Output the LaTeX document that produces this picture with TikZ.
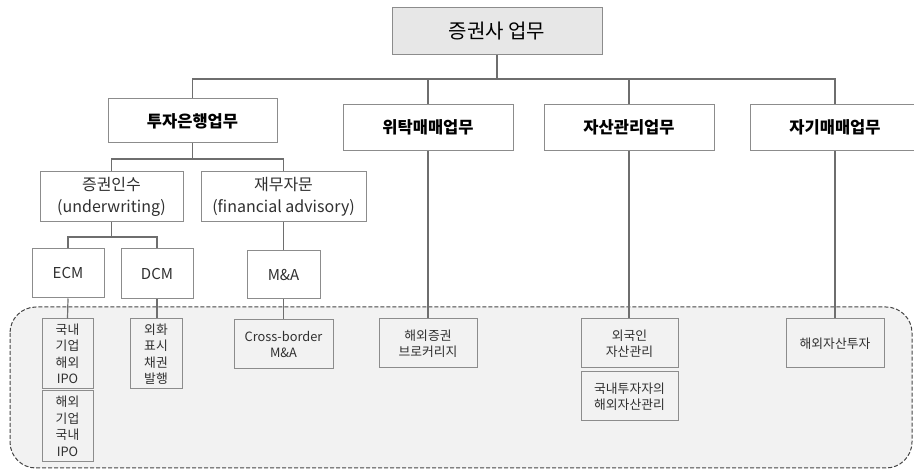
\documentclass[tikz,border=0pt]{standalone}
\usepackage{fontspec}
\setmainfont{Noto Sans CJK KR}
\definecolor{boxline}{HTML}{8C8C8C}
\definecolor{conline}{HTML}{6E6E6E}
\definecolor{txt}{HTML}{303030}
\definecolor{topfill}{HTML}{E7E7E7}
\definecolor{areafill}{HTML}{F2F2F2}
\definecolor{dashline}{HTML}{454545}
\tikzset{
  box/.style={draw=boxline, line width=1pt, inner sep=0pt, align=center, text=txt},
  whitebox/.style={box, fill=white},
  headbox/.style={whitebox, minimum width=170pt, minimum height=46pt, font=\fontsize{16.5}{19}\selectfont\bfseries, text=black},
  midbox/.style={whitebox, minimum height=50pt, font=\fontsize{16}{22}\selectfont},
  smallbox/.style={whitebox, font=\fontsize{15}{18}\selectfont},
  leafbox/.style={box, font=\fontsize{12.8}{16.5}\selectfont},
  con/.style={draw=conline, line width=1.2pt},
}
\begin{document}
\begin{tikzpicture}[x=1pt,y=-1pt]
\useasboundingbox (0,0) rectangle (914,470);
\clip (0,0) rectangle (914,470);
% dashed region
\draw[draw=dashline, fill=areafill, line width=1pt, dash pattern=on 4pt off 2pt, rounded corners=26pt] (10,307) rectangle (912,468);

% nodes
\node[whitebox, fill=topfill, minimum width=210pt, minimum height=47pt, font=\fontsize{20}{24}\selectfont, text=black] (top) at (497,31.5) {증권사 업무};

\node[headbox, minimum width=169pt, minimum height=44pt] (ib) at (192.5,121) {투자은행업무};
\node[headbox] (wt) at (428,127.5) {위탁매매업무};
\node[headbox] (am) at (629,127.5) {자산관리업무};
\node[headbox] (pt) at (835,127.5) {자기매매업무};

\node[midbox, minimum width=143pt] (uw) at (111.5,197) {증권인수\\(underwriting)};
\node[midbox, minimum width=165pt] (fa) at (283.5,197) {재무자문\\(financial advisory)};

\node[smallbox, minimum width=72pt, minimum height=49pt] (ecm) at (68,273.5) {ECM};
\node[smallbox, minimum width=72pt, minimum height=50pt] (dcm) at (157,274) {DCM};
\node[smallbox, minimum width=73pt, minimum height=48pt] (ma) at (283.5,275) {M\&A};

\node[leafbox, minimum width=51pt, minimum height=70pt] (ipo1) at (67.5,354) {국내\\기업\\해외\\IPO};
\node[leafbox, minimum width=51pt, minimum height=71pt] (ipo2) at (67.5,426.5) {해외\\기업\\국내\\IPO};
\node[leafbox, minimum width=52pt, minimum height=70pt] (fx) at (156,354) {외화\\표시\\채권\\발행};
\node[leafbox, minimum width=99pt, minimum height=49pt] (cb) at (283.5,344.5) {Cross-border\\M\&A};
\node[leafbox, minimum width=98pt, minimum height=49pt] (br) at (428,343.5) {해외증권\\브로커리지};
\node[leafbox, minimum width=97pt, minimum height=49pt] (fo) at (629.5,343.5) {외국인\\자산관리};
\node[leafbox, minimum width=97pt, minimum height=49pt] (dom) at (629.5,396.5) {국내투자자의\\해외자산관리};
\node[leafbox, minimum width=98pt, minimum height=49pt] (ov) at (835,343.5) {해외자산투자};

% connectors
\coordinate (bus) at (497,79);
\coordinate (b2) at (192,159);
\coordinate (b3) at (111.5,237);
\draw[con] (top.south) -- (bus);
\draw[con] (ib.north) |- (pt.north |- bus) -- (pt.north);
\draw[con] (wt.north) -- (wt.north |- bus);
\draw[con] (am.north) -- (am.north |- bus);

\draw[con] (ib.south) -- (ib.south |- b2);
\draw[con] (uw.north) |- (fa.north |- b2) -- (fa.north);

\draw[con] (uw.south) -- (uw.south |- b3);
\draw[con] (ecm.north) |- (dcm.north |- b3) -- (dcm.north);

\draw[con] (fa.south) -- (ma.north);
\draw[con] (ecm.south) -- (ipo1.north);
\draw[con] (dcm.south) -- (dcm.south |- fx.north);
\draw[con] (ma.south) -- (cb.north);
\draw[con] (wt.south) -- (br.north);
\draw[con] (am.south) -- (am.south |- fo.north);
\draw[con] (pt.south) -- (ov.north);
\end{tikzpicture}
\end{document}
